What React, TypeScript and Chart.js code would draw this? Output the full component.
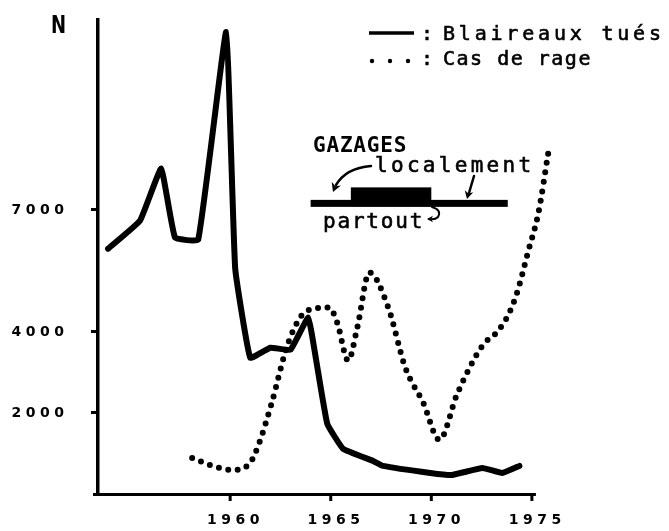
import React, { useEffect, useRef } from 'react';
import { Chart, registerables } from 'chart.js';

Chart.register(...registerables);

// ---- Data ----
const badgerYears = [1953.93, 1955.52, 1956.57, 1957.26, 1958.41, 1959.8, 1960.25, 1961.0, 1962.0, 1963.0, 1963.88, 1964.28, 1964.83, 1965.62, 1967.11, 1967.6, 1969.95, 1971.04, 1972.54, 1973.53, 1974.38];
const badgersKilled = [6030, 6720, 8000, 6300, 6250, 11355, 5550, 3350, 3596, 3547, 4335, 3276, 1724, 1108, 813, 690, 517, 468, 640, 517, 690];

const rabiesYears = [1958.11, 1959.15, 1960.1, 1960.95, 1961.39, 1962.04, 1962.89, 1963.83, 1964.93, 1965.32, 1965.87, 1966.32, 1966.92, 1967.86, 1968.71, 1969.6, 1970.4, 1971.29, 1972.54, 1973.33, 1973.88, 1974.28, 1974.83, 1975.32, 1975.82];
const rabiesCases = [887, 690, 591, 739, 1182, 2192, 3719, 4507, 4581, 4212, 3276, 4089, 5443, 4581, 3103, 2241, 1330, 2463, 3645, 4015, 4458, 4975, 5985, 6897, 8399];

const xTickYears = [1960, 1965, 1970, 1975];
const xTickLabels = ['1960', '1965', '1970', '1975'];
const yTickValues = [2000, 4000, 7000];
const yTickLabels = ['2000', '4000', '7000'];

const xMin = 1953.43;
const xMax = 1976.0;
const xAxisEnd = 1975.2;
const yMax = 11650;

// Gassing periods (annotation)
const gassingLocalYears = [1964.0, 1973.8];
const gassingEverywhereYears = [1966.0, 1970.0];
const gassingLevel = 7143;

const legendLabels = ['Blaireaux tués', 'Cas de rage'];
const yAxisTitle = 'N';
const annotationTitle = 'GAZAGES';
const annotationLocal = 'localement';
const annotationEverywhere = 'partout';

function spacedText(ctx: CanvasRenderingContext2D, text: string, x: number, y: number, spacing: number, align: 'left' | 'center' | 'right', stroke = 0) {
  const chars = Array.from(text);
  const widths = chars.map((c) => ctx.measureText(c).width);
  const total = widths.reduce((a, b) => a + b, 0) + spacing * (chars.length - 1);
  let cx = align === 'center' ? x - total / 2 : align === 'right' ? x - total : x;
  ctx.textAlign = 'left';
  chars.forEach((c, i) => {
    ctx.fillText(c, cx, y);
    if (stroke > 0) {
      ctx.lineWidth = stroke;
      ctx.strokeText(c, cx, y);
    }
    cx += widths[i] + spacing;
  });
}

function arrowHead(ctx: CanvasRenderingContext2D, x: number, y: number, angle: number, size: number) {
  ctx.save();
  ctx.translate(x, y);
  ctx.rotate(angle);
  ctx.beginPath();
  ctx.moveTo(0, 0);
  ctx.lineTo(-size, -size * 0.55);
  ctx.lineTo(-size * 0.7, 0);
  ctx.lineTo(-size, size * 0.55);
  ctx.closePath();
  ctx.fill();
  ctx.restore();
}

const decorPlugin = {
  id: 'decor',
  beforeDatasetsDraw(chart: any) {
    const ctx: CanvasRenderingContext2D = chart.ctx;
    const xs = chart.scales.x;
    const area = chart.chartArea;
    ctx.save();
    ctx.strokeStyle = '#000';
    ctx.lineWidth = 3;
    ctx.lineCap = 'butt';
    ctx.beginPath();
    ctx.moveTo(area.left - 5, area.bottom + 0.5);
    ctx.lineTo(xs.getPixelForValue(xAxisEnd), area.bottom + 0.5);
    ctx.stroke();
    ctx.restore();
  },
  afterDraw(chart: any) {
    const ctx: CanvasRenderingContext2D = chart.ctx;
    const xs = chart.scales.x;
    const ys = chart.scales.y;
    const area = chart.chartArea;
    ctx.save();
    ctx.fillStyle = '#000';
    ctx.strokeStyle = '#000';

    // x tick marks
    ctx.lineWidth = 3;
    xTickYears.forEach((v) => {
      const px = xs.getPixelForValue(v);
      ctx.beginPath();
      ctx.moveTo(px, area.bottom);
      ctx.lineTo(px, area.bottom + 7);
      ctx.stroke();
    });

    // tick labels
    ctx.textBaseline = 'alphabetic';
    ctx.font = "bold 14px 'DejaVu Sans'";
    xTickYears.forEach((v, i) => {
      const px = xs.getPixelForValue(v);
      spacedText(ctx, xTickLabels[i], px + 3, 524, 4.5, 'center');
    });
    ctx.textBaseline = 'middle';
    yTickValues.forEach((v, i) => {
      const py = ys.getPixelForValue(v);
      spacedText(ctx, yTickLabels[i], 64, py + 1, 4.5, 'right');
    });

    // axis title N
    ctx.textBaseline = 'alphabetic';
    ctx.save();
    ctx.translate(51, 33);
    ctx.scale(0.75, 1);
    ctx.font = "bold 24px 'DejaVu Sans'";
    ctx.fillText(yAxisTitle, 0, 0);
    ctx.restore();

    // legend
    ctx.lineCap = 'butt';
    ctx.lineWidth = 3.5;
    ctx.beginPath();
    ctx.moveTo(369, 33);
    ctx.lineTo(414, 33);
    ctx.stroke();
    [372, 390, 408].forEach((x) => {
      ctx.beginPath();
      ctx.arc(x, 61, 2.2, 0, Math.PI * 2);
      ctx.fill();
    });
    ctx.font = "20px 'DejaVu Sans Mono'";
    spacedText(ctx, ':', 421, 40, 0, 'left', 0.6);
    spacedText(ctx, ':', 421, 65, 0, 'left', 0.6);
    spacedText(ctx, legendLabels[0], 443, 40, 3.8, 'left', 0.6);
    spacedText(ctx, legendLabels[1], 443, 65, 1.5, 'left', 0.6);

    // gassing annotation bars
    const py = ys.getPixelForValue(gassingLevel);
    const lx0 = xs.getPixelForValue(gassingLocalYears[0]);
    const lx1 = xs.getPixelForValue(gassingLocalYears[1]);
    const ex0 = xs.getPixelForValue(gassingEverywhereYears[0]);
    const ex1 = xs.getPixelForValue(gassingEverywhereYears[1]);
    ctx.fillRect(lx0, py - 3.5, lx1 - lx0, 7);
    ctx.fillRect(ex0, py - 16, ex1 - ex0, 19);

    ctx.font = "bold 21px 'DejaVu Sans Mono'";
    spacedText(ctx, annotationTitle, 313, 152, 0.8, 'left');
    ctx.font = "21px 'DejaVu Sans Mono'";
    spacedText(ctx, annotationLocal, 375, 172, 3.3, 'left', 0.6);
    spacedText(ctx, annotationEverywhere, 323, 228, 1.8, 'left', 0.6);

    // arrows
    ctx.lineWidth = 2.5;
    ctx.lineCap = 'round';
    ctx.beginPath();
    ctx.moveTo(371, 166);
    ctx.quadraticCurveTo(346, 168, 336, 185);
    ctx.stroke();
    arrowHead(ctx, 333, 192, Math.PI * 0.62, 9);

    ctx.beginPath();
    ctx.moveTo(474, 176);
    ctx.lineTo(469, 193);
    ctx.stroke();
    arrowHead(ctx, 467, 199, Math.PI * 0.58, 8);

    ctx.lineWidth = 2;
    ctx.beginPath();
    ctx.moveTo(432, 207);
    ctx.quadraticCurveTo(442, 210, 438, 217);
    ctx.quadraticCurveTo(435, 220, 429, 219);
    ctx.stroke();
    arrowHead(ctx, 427, 219, Math.PI, 6);

    ctx.restore();
  },
};

export default function App() {
  const canvasRef = useRef<HTMLCanvasElement | null>(null);

  useEffect(() => {
    const canvas = canvasRef.current;
    if (!canvas) return;
    const chart = new Chart(canvas, {
      type: 'line',
      data: {
        datasets: [
          {
            label: legendLabels[0],
            data: badgerYears.map((x, i) => ({ x, y: badgersKilled[i] })),
            borderColor: '#000',
            borderWidth: 6,
            pointRadius: 0,
            tension: 0.1,
            borderJoinStyle: 'round',
            borderCapStyle: 'round',
            clip: false as any,
          },
          {
            label: legendLabels[1],
            data: rabiesYears.map((x, i) => ({ x, y: rabiesCases[i] })),
            borderColor: '#000',
            borderWidth: 6,
            borderDash: [0, 9.5],
            borderCapStyle: 'round',
            pointRadius: 0,
            cubicInterpolationMode: 'monotone',
            clip: false as any,
          },
        ],
      },
      options: {
        animation: false,
        responsive: false,
        devicePixelRatio: 1,
        layout: { padding: { left: 91, right: 117, top: 20, bottom: 37 } },
        plugins: {
          legend: { display: false },
          tooltip: { enabled: false },
        },
        scales: {
          x: {
            type: 'linear',
            display: false,
            min: xMin,
            max: xMax,
          },
          y: {
            type: 'linear',
            min: 0,
            max: yMax,
            afterBuildTicks: (scale: any) => {
              scale.ticks = yTickValues.map((v) => ({ value: v }));
            },
            ticks: { display: false },
            grid: { drawOnChartArea: false, drawTicks: true, tickLength: 7, lineWidth: 3, color: '#000' },
            border: { display: true, color: '#000', width: 3.5 },
          },
        },
      },
      plugins: [decorPlugin],
    });
    return () => chart.destroy();
  }, []);

  return (
    <div style={{ position: 'absolute', left: 0, top: 0, width: 669, height: 531, background: '#fff' }}>
      <canvas ref={canvasRef} width={669} height={531} />
    </div>
  );
}
